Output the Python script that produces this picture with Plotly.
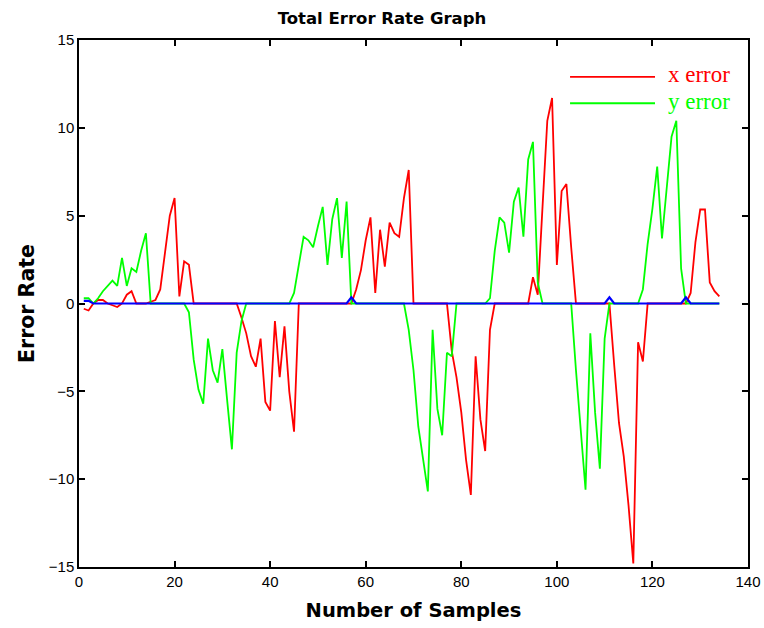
import plotly.graph_objects as go

# ---------------- data ----------------
samples = list(range(1, 135))

x_error = [
    -0.3, -0.4, 0.0, 0.2, 0.2, 0.0, -0.1, -0.2, 0.0, 0.5,
    0.7, 0.0, 0.0, 0.0, 0.1, 0.2, 0.8, 3.0, 5.0, 6.0,
    0.4, 2.4, 2.2, 0.0, 0, 0, 0, 0, 0, 0,
    0, 0, 0, -0.8, -1.7, -3.0, -3.6, -2.0, -5.6, -6.1,
    -1.0, -4.2, -1.3, -5.0, -7.3, 0, 0, 0, 0, 0,
    0, 0, 0, 0, 0, 0, 0, 0.8, 1.9, 3.6,
    4.9, 0.6, 4.2, 2.1, 4.6, 4.0, 3.8, 6.0, 7.6, 0,
    0, 0, 0, 0, 0, 0, 0, -2.7, -4.2, -6.2,
    -8.9, -10.9, -3.0, -6.6, -8.4, -1.5, 0, 0, 0, 0,
    0, 0, 0, 0, 1.5, 0.5, 5.5, 10.4, 11.7, 2.2,
    6.4, 6.8, 3.2, 0, 0, 0, 0, 0, 0, 0,
    0, -3.5, -6.8, -8.7, -11.5, -14.8, -2.2, -3.3, 0, 0,
    0, 0, 0, 0, 0, 0, 0, 0.6, 3.5, 5.35,
    5.35, 1.2, 0.7, 0.4,
]

y_error = [
    0.3, 0.3, 0.0, 0.3, 0.7, 1.0, 1.3, 1.0, 2.6, 1.0,
    2.0, 1.8, 3.0, 4.0, 0, 0, 0, 0, 0, 0,
    0, 0, -0.5, -3.2, -4.9, -5.7, -2.0, -3.8, -4.5, -2.6,
    -5.5, -8.3, -2.8, -1.0, 0, 0, 0, 0, 0, 0,
    0, 0, 0, 0, 0.6, 2.3, 3.8, 3.6, 3.2, 4.4,
    5.5, 2.2, 4.8, 6.0, 2.6, 5.8, 0, 0, 0, 0,
    0, 0, 0, 0, 0, 0, 0, 0, -1.5, -3.8,
    -7.0, -9.0, -10.7, -1.5, -6.0, -7.5, -2.8, -3.0, 0, 0,
    0, 0, 0, 0, 0, 0.3, 3.0, 4.9, 4.6, 2.9,
    5.8, 6.6, 3.8, 8.2, 9.2, 1.2, 0, 0, 0, 0,
    0, 0, 0, -3.8, -7.2, -10.6, -1.7, -6.2, -9.4, -2.0,
    0, 0, 0, 0, 0, 0, 0, 0.8, 3.4, 5.4,
    7.8, 3.7, 6.4, 9.5, 10.4, 2.0, 0, 0, 0, 0,
    0, 0, 0, 0,
]

# third (blue) series: zero except a few small bumps
blue_bumps = {1: 0.15, 2: 0.15, 57: 0.35, 111: 0.35, 127: 0.35}
total_line = [blue_bumps.get(s, 0.0) for s in samples]

x_ticks = [0, 20, 40, 60, 80, 100, 120, 140]
y_ticks = [-15, -10, -5, 0, 5, 10, 15]

series_names = ["x error", "y error"]

# ---------------- figure ----------------
RED = "#ff0000"
GREEN = "#00ff00"
BLUE = "#0000ff"

fig = go.Figure()
fig.add_trace(go.Scatter(x=samples, y=x_error, mode="lines", name=series_names[0],
                         line=dict(color=RED, width=1.8)))
fig.add_trace(go.Scatter(x=samples, y=y_error, mode="lines", name=series_names[1],
                         line=dict(color=GREEN, width=1.8)))
fig.add_trace(go.Scatter(x=samples, y=total_line, mode="lines", name="zero",
                         line=dict(color=BLUE, width=2.2), showlegend=False))

axis_common = dict(
    showline=True, linecolor="black", linewidth=1.5, mirror="ticks",
    ticks="inside", ticklen=6, tickcolor="black", tickwidth=1.5,
    showgrid=False, zeroline=False, automargin=False,
    tickfont=dict(family="Liberation Sans, Arial", size=15, color="black"),
)

fig.update_layout(
    width=764, height=628,
    margin=dict(l=79, r=16, t=40, b=61),
    paper_bgcolor="white", plot_bgcolor="white",
    showlegend=False,
    title=dict(text="<b>Total Error Rate Graph</b>", x=0.5, xref="container", xanchor="center",
               y=1 - 18 / 628, yref="container", yanchor="middle",
               font=dict(family="DejaVu Sans", size=16.5, color="black")),
    xaxis=dict(range=[0, 140], tickvals=x_ticks, **axis_common,
               title=dict(text="<b>Number of Samples</b>", standoff=15,
                          font=dict(family="DejaVu Sans", size=19.5, color="black"))),
    yaxis=dict(range=[-15, 15], tickvals=y_ticks, **axis_common,
               title=dict(text="<b>Error Rate</b>", standoff=9,
                          font=dict(family="DejaVu Sans", size=20.5, color="black"))),
)

# manual legend (long line samples with coloured serif labels)
legend_items = [(series_names[0], RED, 0.930), (series_names[1], GREEN, 0.880)]
for name, col, yy in legend_items:
    fig.add_shape(type="line", xref="paper", yref="paper", x0=0.734, x1=0.861, y0=yy, y1=yy,
                  line=dict(color=col, width=1.8))
    fig.add_annotation(xref="paper", yref="paper", x=0.878, y=yy + 0.004, text=name,
                       showarrow=False, xanchor="left", yanchor="middle",
                       font=dict(family="Liberation Serif, Times New Roman", size=23, color=col))

fig.write_html("out.html", config={"displayModeBar": False},
               post_script="document.body.style.margin='0';")
